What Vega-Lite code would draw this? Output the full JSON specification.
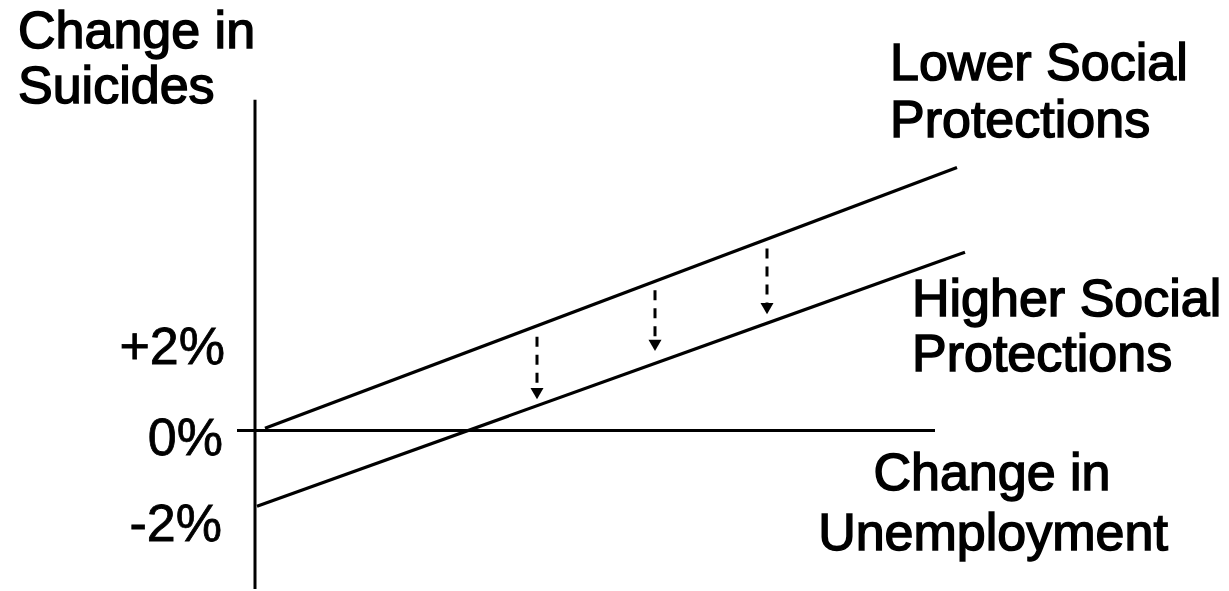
{
  "$schema": "https://vega.github.io/schema/vega-lite/v6.json",
  "width": 1229,
  "height": 591,
  "autosize": {"type": "fit", "contains": "padding"},
  "padding": 0,
  "background": "white",
  "config": {"view": {"stroke": null}},
  "datasets": {
    "axes": [
      {"name": "vertical axis", "x": 0, "y": 7.545, "x2": 0, "y2": -3.614},
      {"name": "horizontal axis", "x": -0.18, "y": 0, "x2": 6.8, "y2": 0}
    ],
    "lines": [
      {"series": "Lower Social Protections", "unemployment": 0.1, "suicides": 0.05},
      {"series": "Lower Social Protections", "unemployment": 7.02, "suicides": 6.0},
      {"series": "Higher Social Protections", "unemployment": 0.02, "suicides": -1.727},
      {"series": "Higher Social Protections", "unemployment": 7.1, "suicides": 4.068}
    ],
    "arrows": [
      {"unemployment": 2.82, "from": 2.14, "to": 0.95, "head": 0.84},
      {"unemployment": 4.0, "from": 3.2, "to": 2.05, "head": 1.94},
      {"unemployment": 5.12, "from": 4.15, "to": 2.9, "head": 2.78}
    ],
    "leftText": [
      {"label": "Change in", "x": -2.37, "y": 8.727},
      {"label": "Suicides", "x": -2.37, "y": 7.477},
      {"label": "Lower Social", "x": 6.35, "y": 8.0},
      {"label": "Protections", "x": 6.35, "y": 6.705},
      {"label": "Higher Social", "x": 6.57, "y": 2.614},
      {"label": "Protections", "x": 6.57, "y": 1.364}
    ],
    "centerText": [
      {"label": "Change in", "x": 7.37, "y": -1.364},
      {"label": "Unemployment", "x": 7.38, "y": -2.727}
    ],
    "tickText": [
      {"label": "+2%", "x": -0.3, "y": 1.523},
      {"label": "0%", "x": -0.32, "y": -0.568},
      {"label": "-2%", "x": -0.33, "y": -2.523}
    ]
  },
  "layer": [
    {
      "data": {"name": "axes"},
      "mark": {"type": "rule", "color": "black", "strokeWidth": 3},
      "encoding": {
        "x": {"field": "x", "type": "quantitative", "scale": {"domain": [-2.55, 9.74], "nice": false, "zero": false}, "axis": null},
        "y": {"field": "y", "type": "quantitative", "scale": {"domain": [-3.614, 9.818], "nice": false, "zero": false}, "axis": null},
        "x2": {"field": "x2"},
        "y2": {"field": "y2"}
      }
    },
    {
      "data": {"name": "lines"},
      "mark": {"type": "line", "color": "black", "strokeWidth": 3.2},
      "encoding": {
        "x": {"field": "unemployment", "type": "quantitative"},
        "y": {"field": "suicides", "type": "quantitative"},
        "detail": {"field": "series"}
      }
    },
    {
      "data": {"name": "arrows"},
      "mark": {"type": "rule", "color": "black", "strokeWidth": 3, "strokeDash": [10, 8]},
      "encoding": {
        "x": {"field": "unemployment", "type": "quantitative"},
        "y": {"field": "from", "type": "quantitative"},
        "y2": {"field": "to"}
      }
    },
    {
      "data": {"name": "arrows"},
      "mark": {"type": "point", "shape": "triangle-down", "filled": true, "color": "black", "size": 170, "opacity": 1},
      "encoding": {
        "x": {"field": "unemployment", "type": "quantitative"},
        "y": {"field": "head", "type": "quantitative"}
      }
    },
    {
      "data": {"name": "leftText"},
      "mark": {"type": "text", "align": "left", "baseline": "alphabetic", "font": "Liberation Sans", "fontSize": 52, "color": "black", "stroke": "black", "strokeWidth": 1.5},
      "encoding": {
        "x": {"field": "x", "type": "quantitative"},
        "y": {"field": "y", "type": "quantitative"},
        "text": {"field": "label"}
      }
    },
    {
      "data": {"name": "centerText"},
      "mark": {"type": "text", "align": "center", "baseline": "alphabetic", "font": "Liberation Sans", "fontSize": 52, "color": "black", "stroke": "black", "strokeWidth": 1.5},
      "encoding": {
        "x": {"field": "x", "type": "quantitative"},
        "y": {"field": "y", "type": "quantitative"},
        "text": {"field": "label"}
      }
    },
    {
      "data": {"name": "tickText"},
      "mark": {"type": "text", "align": "right", "baseline": "alphabetic", "font": "Liberation Sans", "fontSize": 52, "color": "black", "stroke": "black", "strokeWidth": 0.8},
      "encoding": {
        "x": {"field": "x", "type": "quantitative"},
        "y": {"field": "y", "type": "quantitative"},
        "text": {"field": "label"}
      }
    }
  ]
}
